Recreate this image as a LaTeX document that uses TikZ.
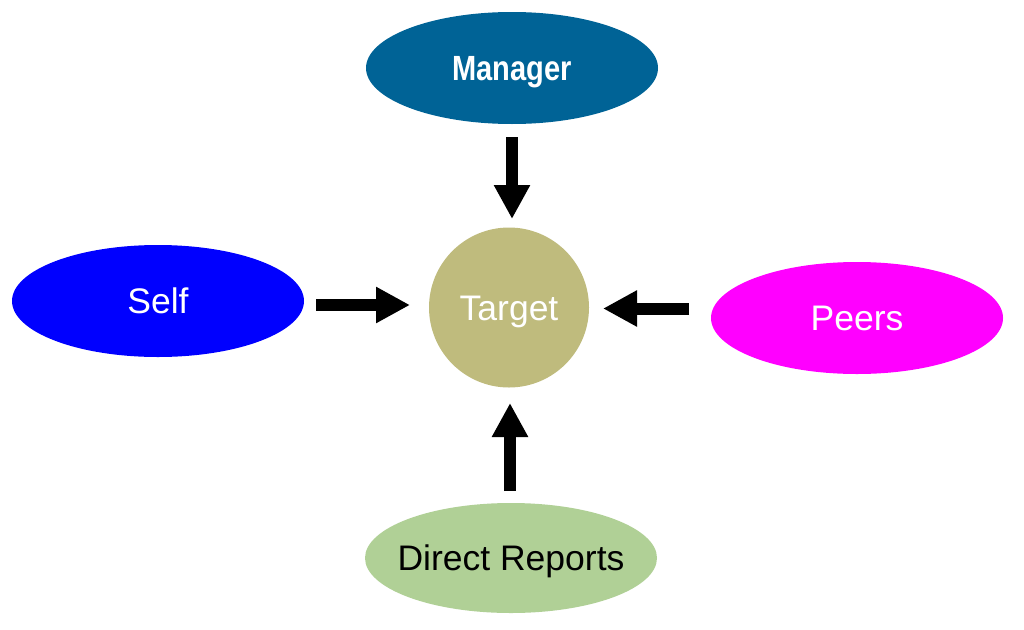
\documentclass[tikz,border=0pt]{standalone}
\usepackage{fontspec}
\setmainfont{Liberation Sans}
\usetikzlibrary{shapes.geometric,arrows.meta}
\definecolor{mgr}{RGB}{0,99,150}
\definecolor{slf}{RGB}{0,0,255}
\definecolor{prs}{RGB}{255,0,255}
\definecolor{drp}{RGB}{176,208,150}
\definecolor{tgt}{RGB}{191,187,125}
\begin{document}
\begin{tikzpicture}[x=1pt,y=-1pt,
  oval/.style={ellipse,minimum width=292pt,minimum height=112pt,inner xsep=-25pt,inner ysep=0pt,draw=none},
  lbl/.style={font=\fontsize{35.5}{40}\selectfont,text height=25.5pt,text depth=0pt},
  blockarrow/.style={line width=12pt,-{Triangle[width=34pt,length=34pt]}}]
\useasboundingbox (0,0) rectangle (1024,629);
\node[oval,fill=mgr,text=white,font=\bfseries\fontsize{35}{40}\selectfont,text height=25pt,text depth=0pt] (m) at (512,68) {\scalebox{0.83}[1]{Manager}};
\node[oval,fill=slf,text=white,lbl] (s) at (158,301) {Self};
\node[oval,fill=prs,text=white,lbl] (p) at (857,318) {Peers};
\node[oval,fill=drp,text=black,lbl,minimum height=110pt] (d) at (511,558) {Direct Reports};
\node[circle,fill=tgt,text=white,lbl,minimum size=160pt,inner sep=0pt] (t) at (509,307.5) {Target};
\coordinate (ms) at (512,137); \coordinate (me) at (512,219);
\coordinate (ss) at (316,305); \coordinate (se) at (410,305);
\coordinate (ps) at (689,308.5); \coordinate (pe) at (603,308.5);
\coordinate (ds) at (510,491); \coordinate (de) at (510,403);
\draw[blockarrow] (ms) -- (me);
\draw[blockarrow] (ss) -- (se);
\draw[blockarrow] (ps) -- (pe);
\draw[blockarrow] (ds) -- (de);
\end{tikzpicture}
\end{document}
